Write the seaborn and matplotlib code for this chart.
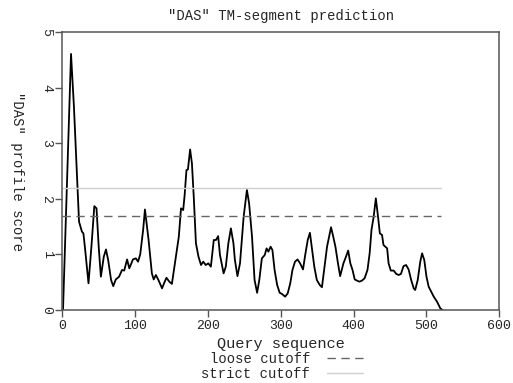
import matplotlib
matplotlib.use("Agg")
import matplotlib.pyplot as plt
import seaborn as sns
import pandas as pd

positions = [1, 12, 16, 20, 23, 27, 29, 31, 36, 40,
             44, 47, 50, 53, 57, 60, 63, 67, 70, 73.5,
             78, 82, 85, 89, 92, 97, 101, 104, 107, 111,
             113.5, 118.5, 123, 125.5, 128.5, 132, 137, 140, 143, 147,
             150.5, 155, 160, 163, 166, 168, 170.5, 172.5, 175.5, 178,
             180.5, 183.5, 187, 190.5, 193.5, 197, 200.5, 204, 208, 211,
             214, 216.5, 221.5, 224.5, 228, 231.5, 235, 237, 240.5, 244,
             249, 253.5, 256.5, 260.5, 264, 267.5, 270.5, 274, 278, 280.5,
             283, 286, 288.5, 291.5, 295, 298.5, 301.5, 306, 309.5, 313,
             316, 319.5, 323, 326.5, 330.5, 333.5, 337, 340, 342.5, 346,
             349.5, 353.5, 356.5, 359.5, 363.5, 369, 371.5, 375, 378.5, 381.5,
             386, 389.5, 392.5, 395.5, 398.5, 401.5, 404.5, 408, 411.5, 415,
             419, 422, 424.5, 427.5, 430.5, 433.5, 436, 439, 441, 443.5,
             446, 448, 451, 455, 458.5, 462, 465, 468.5, 472, 475.5,
             479, 482.5, 484.5, 488, 491.5, 494, 497, 500, 503, 506.5,
             510, 514.5, 519, 522]

scores = [0, 4.61, 3.66, 2.47, 1.59, 1.41, 1.38, 1.14, 0.48, 1.14,
          1.87, 1.83, 1.14, 0.6, 0.96, 1.09, 0.9, 0.54, 0.43, 0.55,
          0.6, 0.72, 0.71, 0.91, 0.75, 0.91, 0.93, 0.87, 1.0, 1.44,
          1.81, 1.26, 0.66, 0.55, 0.63, 0.54, 0.39, 0.49, 0.58, 0.51,
          0.47, 0.87, 1.32, 1.83, 1.8, 2.07, 2.52, 2.53, 2.89, 2.64,
          2.04, 1.2, 0.96, 0.81, 0.87, 0.81, 0.84, 0.78, 1.26, 1.26,
          1.33, 0.99, 0.66, 0.78, 1.2, 1.47, 1.2, 0.9, 0.61, 0.84,
          1.68, 2.16, 1.92, 1.32, 0.54, 0.31, 0.54, 0.93, 0.99, 1.11,
          1.05, 1.14, 1.08, 0.72, 0.45, 0.31, 0.29, 0.24, 0.3, 0.48,
          0.72, 0.87, 0.91, 0.84, 0.73, 0.99, 1.26, 1.39, 1.14, 0.78,
          0.54, 0.45, 0.41, 0.72, 1.14, 1.49, 1.35, 1.14, 0.84, 0.61,
          0.84, 0.96, 1.07, 0.84, 0.72, 0.55, 0.53, 0.51, 0.53, 0.57,
          0.72, 1.02, 1.44, 1.68, 2.01, 1.68, 1.38, 1.35, 1.17, 1.14,
          1.11, 0.84, 0.71, 0.71, 0.65, 0.63, 0.65, 0.79, 0.81, 0.73,
          0.54, 0.39, 0.36, 0.54, 0.87, 1.02, 0.9, 0.6, 0.42, 0.33,
          0.24, 0.15, 0.03, 0.0]

loose_cutoff = 1.7
strict_cutoff = 2.2
cutoff_span = [0, 520]
x_ticks = [0, 100, 200, 300, 400, 500, 600]
y_ticks = [0, 1, 2, 3, 4, 5]

sns.set_style("white")
plt.rcParams['font.family'] = ['Liberation Mono', 'DejaVu Sans Mono']

fig = plt.figure(figsize=(5.13, 3.83), dpi=100)
ax = fig.add_axes([0.1214, 0.1906, 0.8519, 0.7251])

df = pd.DataFrame({"pos": positions, "score": scores})
sns.lineplot(data=df, x="pos", y="score", ax=ax, color="black", lw=1.3,
             estimator=None, sort=False)

loose_df = pd.DataFrame({"x": cutoff_span, "y": [loose_cutoff] * 2})
strict_df = pd.DataFrame({"x": cutoff_span, "y": [strict_cutoff] * 2})
sns.lineplot(data=loose_df, x="x", y="y", ax=ax, color="#666666", lw=1.0,
             linestyle=(0, (6, 4)), label="loose cutoff")
sns.lineplot(data=strict_df, x="x", y="y", ax=ax, color="#cfcfcf", lw=1.0,
             label="strict cutoff")

ax.set_xlim(0, 600)
ax.set_ylim(0, 5)
ax.set_xticks(x_ticks)
ax.set_yticks(y_ticks)
ax.set_xticklabels([str(t) for t in x_ticks], fontsize=9.5)
ax.set_yticklabels([str(t) for t in y_ticks], fontsize=9.5, rotation=-90,
                   va="center")
ax.tick_params(axis="both", direction="out", length=5, width=1,
               color="#555555", bottom=True, left=True, pad=2)
for s in ax.spines.values():
    s.set_color("#555555")
    s.set_linewidth(1.1)

ax.set_xlabel("Query sequence", fontsize=11, labelpad=4)
ax.set_ylabel('"DAS" profile score', fontsize=10, rotation=-90, labelpad=22)
ax.set_title('"DAS" TM-segment prediction', fontsize=10, pad=9)

handles, labels = ax.get_legend_handles_labels()
ax.get_legend().remove()
fig.legend(handles, labels, loc="center", bbox_to_anchor=(0.55, 0.043),
           frameon=False, markerfirst=False, fontsize=10, handlelength=2.6,
           labelspacing=0.05, handletextpad=1.2, borderpad=0)

fig.savefig("out.png", dpi=100)
